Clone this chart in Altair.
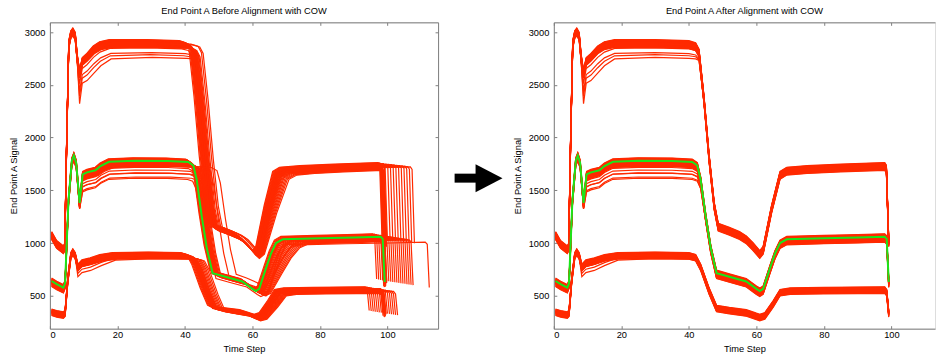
import altair as alt
import numpy as np
import pandas as pd

FONT = "Liberation Sans"
FS = 9.3
RED = "#FF2A00"
GREEN = "#1AE61A"
GRAY = "#808080"

X_TICKS = [0, 20, 40, 60, 80, 100]
Y_TICKS = [500, 1000, 1500, 2000, 2500, 3000]
Y_DOMAIN = [188, 3092]
X_DOMAIN_BEFORE = [0, 115]
X_DOMAIN_AFTER = [0, 112.9]

# ---- signal templates on the aligned time axis -------------------------
# high group (starts near 1000, plateau near 2900)
HIGH_T = [0.5, 2, 4, 4.4, 5.0, 5.6, 6.2, 6.8, 7.5, 8.1, 8.8, 9.6, 11, 13, 15, 18, 30,
          40, 42, 43, 44.5, 46, 47.5, 48.7, 52, 55, 57, 59, 61, 62, 64.5, 67, 69, 75,
          85, 98, 98.5, 99.2]
HIGH_V = [1070, 985, 935, 960, 2000, 2880, 2975, 3000, 2960, 2750, 2600, 2720, 2760,
          2830, 2870, 2890, 2890, 2880, 2860, 2800, 2350, 1800, 1350, 1150, 1110, 1070,
          1030, 965, 890, 930, 1320, 1640, 1680, 1695, 1710, 1725, 1700, 1000]
HIGH_W = [0, 0, 0, 0, 0, 0, 0, 0, 0, 0.3, 2.0, 1.5, 1.6, 1.6, 1.4, 1.1, 1, 1, 0.9, 0.6,
          0.2, 0, 0, 0, 0, 0, 0, 0, 0, 0, 0, 0, 0, 0, 0, 0, 0, 0]

# middle group (starts near 640, plateau near 1780); also the reference run
MID_T = [0.5, 2, 4, 4.5, 5.5, 6.5, 7.1, 7.8, 8.8, 9.7, 11, 13.5, 15, 17.5, 25, 35, 41,
         42.5, 43.5, 45, 46.5, 48.2, 52, 57, 60, 61, 62, 64, 65.5, 67, 69, 80, 90, 98,
         98.6, 99.2]
MID_V = [640, 610, 578, 620, 1400, 1780, 1830, 1760, 1380, 1650, 1670, 1690, 1730, 1770,
         1780, 1778, 1768, 1735, 1600, 1250, 950, 715, 680, 635, 565, 545, 565, 760, 900,
         1000, 1035, 1045, 1052, 1060, 1040, 630]
MID_W = [0, 0, 0, 0, 0, 0, 0, 0, 0.3, 1, 1, 1, 1, 1, 1, 1, 1, 0.9, 0.5, 0.2, 0, 0, 0, 0,
         0, 0, 0, 0, 0, 0, 0, 0, 0, 0, 0, 0]

# low group (starts near 340, plateau near 880)
LOW_T = [0.5, 2, 4, 4.5, 5.3, 6.2, 6.8, 7.5, 8.3, 9.5, 12, 15, 19, 30, 40, 42, 43.5, 46,
         48.2, 52, 57, 60, 61, 62.5, 65, 67, 70, 80, 90, 98, 98.6, 99.2]
LOW_V = [345, 330, 318, 335, 650, 880, 915, 880, 770, 810, 830, 860, 880, 885, 880, 862,
         770, 545, 380, 360, 338, 305, 295, 310, 425, 530, 545, 550, 553, 555, 530, 330]
LOW_W = [0, 0, 0, 0, 0, 0, 0, 0, 1, 1, 1, 0.8, 0.4, 0.3, 0.3, 0.2, 0, 0, 0, 0, 0, 0, 0,
         0, 0, 0, 0, 0, 0, 0, 0, 0]

# ---- per-run offsets and timing --------------------------------------
H_LEVEL = [38, 34, 30, 27, 24, 21, 18, 15, 12, 9, 6, 3, 0, -3, -6, -9, -12, -15, -18,
           -21, -24, -28, -32, -36, 5, -2, 10, -10, 0, 20]
H_PLATEAU = [0, 0, 0, 0, 0, 0, 0, 0, 0, 0, 0, 0, 0, 0, 0, 0, 0, 0, 0, 0, 0, 0, 0, 0, 0,
             0, -50, -75, -105, -150]
H_DROP = [-1.8, -1.5, -1.3, -1.1, -0.9, -0.8, -0.6, -0.5, -0.4, -0.3, -0.2, -0.1, 0, 0,
          0.1, 0.2, 0.3, 0.4, 0.5, 0.6, 0.8, 1, 1.2, 1.5, 1.9, 2.4, -1, 0.2, -0.4, 0.6]
H_VALLEY = [-1, -0.9, -0.8, -0.7, -0.6, -0.5, -0.4, -0.3, -0.2, -0.1, 0, 0, 0, 0.1, 0.2,
            0.3, 0.4, 0.5, 0.6, 0.7, 0.8, 0.9, 1, 1.1, 1.2, 1.4, -0.3, 0.2, 0, 0.4]
H_RISE = [-1, -0.8, -0.6, -0.4, -0.2, 0, 0, 0.2, 0.3, 0.4, 0.6, 0.8, 1, 1.2, 1.4, 1.6,
          1.8, 2, 2.3, 2.6, 3, 3.4, 3.8, 4.3, 0.5, 0.1, -0.5, 0.7, 1.5, 0]
H_END = [-0.8, -0.4, 0, 0.8, 1.6, 2.4, 3.2, 4, 4.8, 5.6, 6.4, 7.2, 8, 8.8, -0.6, -0.2,
         0.2, 0.4, -0.3, 0.1, 0, 0.3, -0.1, 0.5, 0, -0.5, 0.2, 0.1, -0.2, 0.6]

M_LEVEL = [28, 24, 20, 16, 13, 10, 7, 4, 1, -2, -5, -8, -11, -14, -17, -20, -23, -26,
           -29, -32, -36, -40, -44, -48, -52, -12, -2, -8, -18, 4, -14, -6]
M_PLATEAU = [0, 0, 0, 0, 0, 0, 0, 0, 0, 0, 0, 0, 0, 0, 0, 0, 0, 0, 0, 0, 0, 0, 0, 0, 0,
             -40, -60, -80, -100, -120, -140, -160]
M_DROP = [-0.8, -0.6, -0.4, -0.3, -0.2, -0.1, 0, 0, 0.1, 0.2, 0.3, 0.4, 0.5, 0.6, 0.8, 1,
          1.2, 1.4, 1.6, 1.8, 2, 2.3, 2.6, 5, 1, 7, 0, 0.6, 1.4, 0.3, 1, -0.2]
M_VALLEY = [-0.5, -0.3, -0.2, 0, 0, 0.2, 0.3, 0.4, 0.5, 0.6, 0.7, 0.8, 0.9, 1, 1.1, 1.2,
            1.4, 1.6, 1.8, 2, 2.2, 2.4, 2.6, 3, 1.5, 3, 0, 0.5, 1, 0.2, 0.8, 0.3]
M_RISE = [-0.5, -0.3, 0, 0.2, 0.4, 0.7, 1, 1.3, 1.6, 2, 2.4, 2.8, 3.2, 3.6, 4, 4.5, 5,
          5.5, 6, 6.5, 7, 7.5, 7.8, 1.2, 4.2, 3, 0, 0.8, 2.2, 0.2, 5.8, 0.5]
M_END = [-2.4, -1.8, -1.2, -0.6, 0, 0.6, 1.2, 1.8, 2.4, 3, 3.6, 4.2, 4.8, 5.4, 6, 6.6,
         7.2, 7.8, 8.4, 0, 0.3, -0.3, 0.2, -0.1, 13.2, 0.5, 0, 0.4, -0.3, 0.2, 0, 0.6]

L_LEVEL = [30, 26, 22, 19, 16, 13, 10, 7, 4, 1, -2, -5, -8, -11, -14, -17, -20, -24,
           -28, -32, 0, 8, -4, 14, 2, -10]
L_PLATEAU = [0, 0, 0, 0, 0, 0, 0, 0, 0, 0, 0, 0, 0, 0, 0, 0, 0, 0, 0, 0, 0, 0, -30, -45,
             -60, -80]
L_DROP = [-1.5, -1.2, -0.9, -0.6, -0.4, -0.2, 0, 0, 0.2, 0.4, 0.6, 0.8, 1, 1.3, 1.6, 2,
          2.4, 2.8, 3.3, 3.8, 0, 0.5, 1, -0.5, 0.2, 1.5]
L_VALLEY = [-0.5, -0.4, -0.3, -0.2, -0.1, 0, 0.1, 0.2, 0.3, 0.4, 0.5, 0.6, 0.7, 0.8, 0.9,
            1, 1.1, 1.2, 1.3, 1.4, 0, 0.3, 0.5, -0.2, 1, 0.6]
L_RISE = [-0.5, -0.3, -0.1, 0.1, 0.3, 0.5, 0.7, 0.9, 1.1, 1.3, 1.5, 1.7, 1.9, 2.1, 2.3,
          2.5, 2.7, 2.9, 3.1, 3.3, 0, 0.5, 1, -0.3, 0.2, 1.2]
L_END = [-4.6, -4, -3.4, -2.8, -2.2, -1.6, -1, -0.4, 0.2, 0.8, 1.4, 2, 2.6, 3.2, 3.8, 0,
         -0.5, 0.2, -0.2, 0, 0.4, -0.3, 0.1, 0, -0.1, 0.3]

# time-warp anchors on the aligned axis
WARP_AT = [0, 10, 42, 50, 61, 68, 98, 101]

# arrow between the panels (in the left panel's data units)
ARROW_SHAFT_T = [119.9, 126.4]
ARROW_HEAD_T = [130.1]
ARROW_V = [1615]


def runs(label, T, V, W, level, plateau, drop, valley, rise, end, aligned):
    rows = []
    T = np.asarray(T, float)
    V = np.asarray(V, float)
    W = np.asarray(W, float)
    for i in range(len(level)):
        if aligned:
            tt = T
        else:
            sh = [0, 0, drop[i], drop[i], valley[i], rise[i], end[i], end[i]]
            tt = T + np.interp(T, WARP_AT, sh)
        vv = V + level[i] + plateau[i] * W
        for k, (a, b) in enumerate(zip(tt, vv)):
            rows.append({"run": f"{label}{i}", "k": k, "t": float(a), "v": float(b)})
    return rows


def panel_frames(aligned):
    upper = runs("H", HIGH_T, HIGH_V, HIGH_W, H_LEVEL, H_PLATEAU, H_DROP, H_VALLEY,
                 H_RISE, H_END, aligned)
    upper += runs("M", MID_T, MID_V, MID_W, M_LEVEL, M_PLATEAU, M_DROP, M_VALLEY,
                  M_RISE, M_END, aligned)
    lower = runs("L", LOW_T, LOW_V, LOW_W, L_LEVEL, L_PLATEAU, L_DROP, L_VALLEY,
                 L_RISE, L_END, aligned)
    ref = [{"run": "ref", "k": k, "t": a, "v": b} for k, (a, b) in enumerate(zip(MID_T, MID_V))]
    return pd.DataFrame(upper), pd.DataFrame(lower), pd.DataFrame(ref)


def panel(title, aligned, x_domain, width, height, right_box):
    upper, lower, ref = panel_frames(aligned)
    xs = alt.Scale(domain=x_domain, nice=False, zero=False)
    ys = alt.Scale(domain=Y_DOMAIN, nice=False, zero=False)

    text_style = dict(labelFont=FONT, labelFontSize=FS, labelColor="black",
                      titleFont=FONT, titleFontSize=FS, titleFontWeight="normal",
                      titleColor="black")
    label_x = alt.Axis(values=X_TICKS, ticks=False, grid=False, title="Time Step",
                       format="d", labelPadding=2, titlePadding=5, domainColor=GRAY,
                       **text_style)
    label_y = alt.Axis(values=Y_TICKS, ticks=False, grid=False, title="End Point A Signal",
                       format="d", labelPadding=5, titlePadding=6, domainColor=GRAY,
                       **text_style)
    # inward ticks along the bottom and left edges
    in_bottom = alt.Axis(orient="top", offset=-height, values=X_TICKS, labels=False,
                         domain=False, grid=False, title=None, tickSize=3, tickColor=GRAY)
    in_left = alt.Axis(orient="right", offset=-width, values=Y_TICKS, labels=False,
                       domain=False, grid=False, title=None, tickSize=3, tickColor=GRAY)
    # top edge (and right edge) with inward ticks
    in_top = alt.Axis(orient="bottom", offset=-height, values=X_TICKS, labels=False,
                      domain=True, domainColor=GRAY, grid=False, title=None, tickSize=3,
                      tickColor=GRAY)
    in_right = alt.Axis(orient="left", offset=-width, values=Y_TICKS, labels=False,
                        domain=True, domainColor=GRAY, grid=False, title=None, tickSize=3,
                        tickColor=GRAY)

    a = alt.Chart(upper).mark_line(color=RED, strokeWidth=1.2).encode(
        x=alt.X("t:Q", scale=xs, axis=label_x),
        y=alt.Y("v:Q", scale=ys, axis=label_y),
        detail="run:N", order="k:Q")
    b = alt.Chart(lower).mark_line(color=RED, strokeWidth=1.2).encode(
        x=alt.X("t:Q", scale=xs, axis=in_bottom),
        y=alt.Y("v:Q", scale=ys, axis=in_left),
        detail="run:N", order="k:Q")
    c = alt.Chart(ref).mark_line(color=GREEN, strokeWidth=2).encode(
        x=alt.X("t:Q", scale=xs, axis=in_top),
        y=alt.Y("v:Q", scale=ys, axis=in_right if right_box else None),
        order="k:Q")
    layers = [a, b, c]
    if right_box:
        shaft = alt.Chart(pd.DataFrame({"t": [ARROW_SHAFT_T[0]], "t2": [ARROW_SHAFT_T[1]],
                                        "v": ARROW_V})).mark_rule(
            color="black", strokeWidth=9).encode(
            x=alt.X("t:Q", scale=xs, axis=None), x2="t2:Q",
            y=alt.Y("v:Q", scale=ys, axis=None))
        head = alt.Chart(pd.DataFrame({"t": ARROW_HEAD_T, "v": ARROW_V})).mark_point(
            shape="M-1,-1.04L1,0L-1,1.04Z", filled=True, color="black", opacity=1,
            size=729, strokeWidth=0).encode(
            x=alt.X("t:Q", scale=xs, axis=None),
            y=alt.Y("v:Q", scale=ys, axis=None))
        layers += [shaft, head]
    return alt.layer(*layers).resolve_scale(x="shared", y="shared").resolve_axis(
        x="independent", y="independent").properties(
        width=width, height=height,
        title=alt.TitleParams(title, fontSize=FS, fontWeight="normal", font=FONT,
                              color="black", offset=6))


left = panel("End Point A Before Alignment with COW", False, X_DOMAIN_BEFORE, 389, 307, True)
right = panel("End Point A After Alignment with COW", True, X_DOMAIN_AFTER, 382, 307, False)

chart = alt.hconcat(left, right, spacing=116, bounds="flush").properties(
    padding={"left": 8, "top": 5, "right": 0, "bottom": 0}
).configure_view(stroke=None).configure_axis(
    domainWidth=1, tickWidth=1
).configure(background="white")

chart.save("out.html", embed_options={"renderer": "svg", "actions": False})
